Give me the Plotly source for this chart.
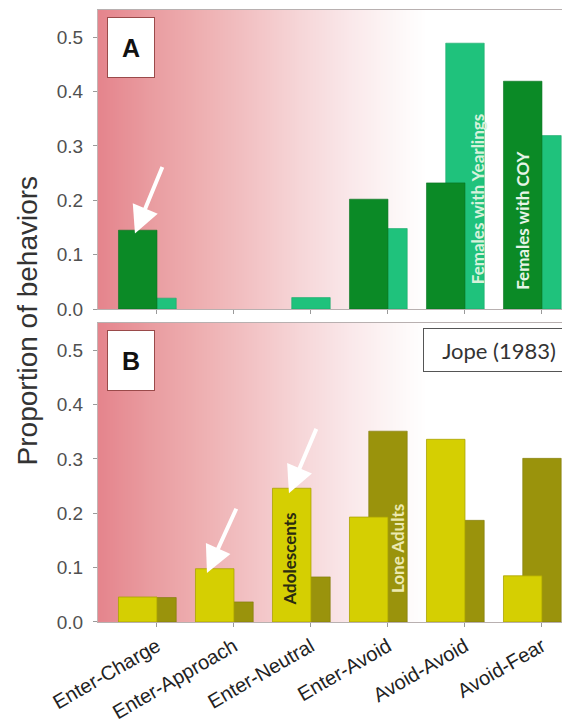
import plotly.graph_objects as go
import numpy as np

# ---------------- data ----------------
categories = ["Enter-Charge", "Enter-Approach", "Enter-Neutral",
              "Enter-Avoid", "Avoid-Avoid", "Avoid-Fear"]
females_coy = [0.145, 0.0, 0.0, 0.202, 0.232, 0.419]
females_yearlings = [0.020, 0.0, 0.021, 0.148, 0.489, 0.319]
adolescents = [0.046, 0.098, 0.246, 0.193, 0.336, 0.085]
lone_adults = [0.045, 0.037, 0.083, 0.351, 0.187, 0.301]
y_ticks = [0.0, 0.1, 0.2, 0.3, 0.4, 0.5]
y_tick_labels = ["0.0", "0.1", "0.2", "0.3", "0.4", "0.5"]

idx = list(range(len(categories)))

# ---------------- style ----------------
DARK_GREEN = "#0b8a26"
LIGHT_GREEN = "#1fc27c"
YELLOW = "#d5cf02"
OLIVE = "#9a930c"
XR = [-0.766, 5.468]
YR = [0, 0.55]

# background gradient (red-pink to white), stops in data-x units
grad_stops = [(-1.0, "#e1808a"), (-0.74, "#e5858d"), (-0.09, "#e99ca0"),
              (0.56, "#eeafb1"), (1.21, "#f2c2c4"), (1.86, "#f6d6d8"),
              (2.51, "#fae8ea"), (3.16, "#fdf8f8"), (3.5, "#ffffff"),
              (5.6, "#ffffff")]
gmin, gmax = grad_stops[0][0], grad_stops[-1][0]
colorscale = [[(gx - gmin) / (gmax - gmin), c] for gx, c in grad_stops]
gx = np.linspace(gmin, gmax, 133)
gz = [list(gx), list(gx)]


def edge_widths(vals, w):
    return [w if v > 0 else 0 for v in vals]


fig = go.Figure()

for xa, ya in (("x", "y"), ("x2", "y2")):
    fig.add_trace(go.Heatmap(x=gx, y=[-0.1, 0.7], z=gz, zmin=gmin, zmax=gmax,
                             colorscale=colorscale, zsmooth="best",
                             showscale=False, hoverinfo="skip",
                             xaxis=xa, yaxis=ya))

# Panel A
fig.add_trace(go.Bar(x=idx, y=females_yearlings, width=0.5, offset=-0.25,
                     marker=dict(color=LIGHT_GREEN,
                                 line=dict(color="#1aa86a", width=edge_widths(females_yearlings, 0.6))),
                     name="Females with Yearlings", xaxis="x", yaxis="y"))
fig.add_trace(go.Bar(x=idx, y=females_coy, width=0.5, offset=-0.5,
                     marker=dict(color=DARK_GREEN,
                                 line=dict(color="#087020", width=edge_widths(females_coy, 0.6))),
                     name="Females with COY", xaxis="x", yaxis="y"))
# Panel B
fig.add_trace(go.Bar(x=idx, y=lone_adults, width=0.5, offset=-0.25,
                     marker=dict(color=OLIVE,
                                 line=dict(color="#7f7808", width=edge_widths(lone_adults, 0.6))),
                     name="Lone Adults", xaxis="x2", yaxis="y2"))
fig.add_trace(go.Bar(x=idx, y=adolescents, width=0.5, offset=-0.5,
                     marker=dict(color=YELLOW,
                                 line=dict(color="#a9a204", width=edge_widths(adolescents, 0.8))),
                     name="Adolescents", xaxis="x2", yaxis="y2"))

tickfont = dict(family="Liberation Sans, Arial", size=19, color="#505050")
common_y = dict(range=YR, tickvals=y_ticks, ticktext=y_tick_labels,
                ticks="outside", ticklen=4, tickcolor="#9a9a9a",
                ticklabelstandoff=6,
                showline=True, linecolor="#c4b4b4", linewidth=1, mirror=True,
                showgrid=False, zeroline=False, tickfont=tickfont,
                automargin=False)
common_x = dict(range=XR, tickvals=idx, ticks="outside", ticklen=4,
                tickcolor="#9a9a9a", showline=True, linecolor="#b8b0b0",
                linewidth=1, mirror=True, showgrid=False, zeroline=False,
                automargin=False)

fig.update_layout(
    width=570, height=727,
    margin=dict(l=90, r=0, t=2, b=113),
    paper_bgcolor="white", plot_bgcolor="white",
    barmode="overlay", showlegend=False,
    xaxis=dict(common_x, anchor="y", domain=[0, 1], showticklabels=False),
    yaxis=dict(common_y, anchor="x", domain=[0.5114, 1]),
    xaxis2=dict(common_x, anchor="y2", domain=[0, 1], ticktext=categories,
                tickangle=-30,
                tickfont=dict(family="Liberation Sans, Arial", size=20, color="#222222")),
    yaxis2=dict(common_y, anchor="x2", domain=[0, 0.4886]),
)

annotations = []
# panel letters
for letter, xr, yr in (("A", "x domain", "y domain"), ("B", "x2 domain", "y2 domain")):
    annotations.append(dict(text="<b>%s</b>" % letter, xref=xr, yref=yr,
                            x=0.019, y=0.977, xanchor="left", yanchor="top",
                            showarrow=False, width=44, height=57,
                            bgcolor="white", bordercolor="#9a4a4a", borderwidth=1,
                            borderpad=1,
                            font=dict(family="Liberation Sans, Arial", size=25, color="#111")))
# source box
annotations.append(dict(text="Jope (1983)", xref="x2 domain", yref="y2 domain",
                        x=0.677, y=0.983, xanchor="left", yanchor="top",
                        showarrow=False, width=150, height=42, align="center",
                        bgcolor="white", bordercolor="#555555", borderwidth=1,
                        borderpad=0,
                        font=dict(family="Lato, Open Sans", size=22, color="#333")))
# in-bar vertical labels
annotations += [
    dict(text="<b>Females with Yearlings</b>", x=4.156, y=0.202, xref="x", yref="y",
         textangle=-90, showarrow=False,
         font=dict(family="Lato, Open Sans", size=17, color="#d8f2dc")),
    dict(text="<b>Females with COY</b>", x=4.753, y=0.164, xref="x", yref="y",
         textangle=-90, showarrow=False,
         font=dict(family="Lato, Open Sans", size=17, color="#e6f4e6")),
    dict(text="<b>Adolescents</b>", x=1.727, y=0.1165, xref="x2", yref="y2",
         textangle=-90, showarrow=False,
         font=dict(family="Lato, Open Sans", size=17, color="#2a2a10")),
    dict(text="<b>Lone Adults</b>", x=3.117, y=0.136, xref="x2", yref="y2",
         textangle=-90, showarrow=False,
         font=dict(family="Lato, Open Sans", size=17, color="#ece9b0")),
]
# arrows
arrows = [("x", "y", -0.286, 0.139, 0.078, 0.264),
          ("x2", "y2", 0.649, 0.090, 1.039, 0.211),
          ("x2", "y2", 1.714, 0.237, 2.078, 0.358)]
for xr, yr, hx, hy, tx, ty in arrows:
    annotations.append(dict(text="", x=hx, y=hy, ax=tx, ay=ty, xref=xr, yref=yr,
                            axref=xr, ayref=yr, showarrow=True, arrowhead=2,
                            arrowsize=1.35, arrowwidth=4, arrowcolor="#ffffff",
                            standoff=0))
# y-axis title
annotations.append(dict(text="Proportion of behaviors", xref="paper", yref="paper",
                        x=-0.145, y=0.4935, xanchor="center", yanchor="middle",
                        textangle=-90, showarrow=False,
                        font=dict(family="Liberation Sans, Arial", size=28, color="#333333")))

fig.update_layout(annotations=annotations)

fig.write_html("out.html")
